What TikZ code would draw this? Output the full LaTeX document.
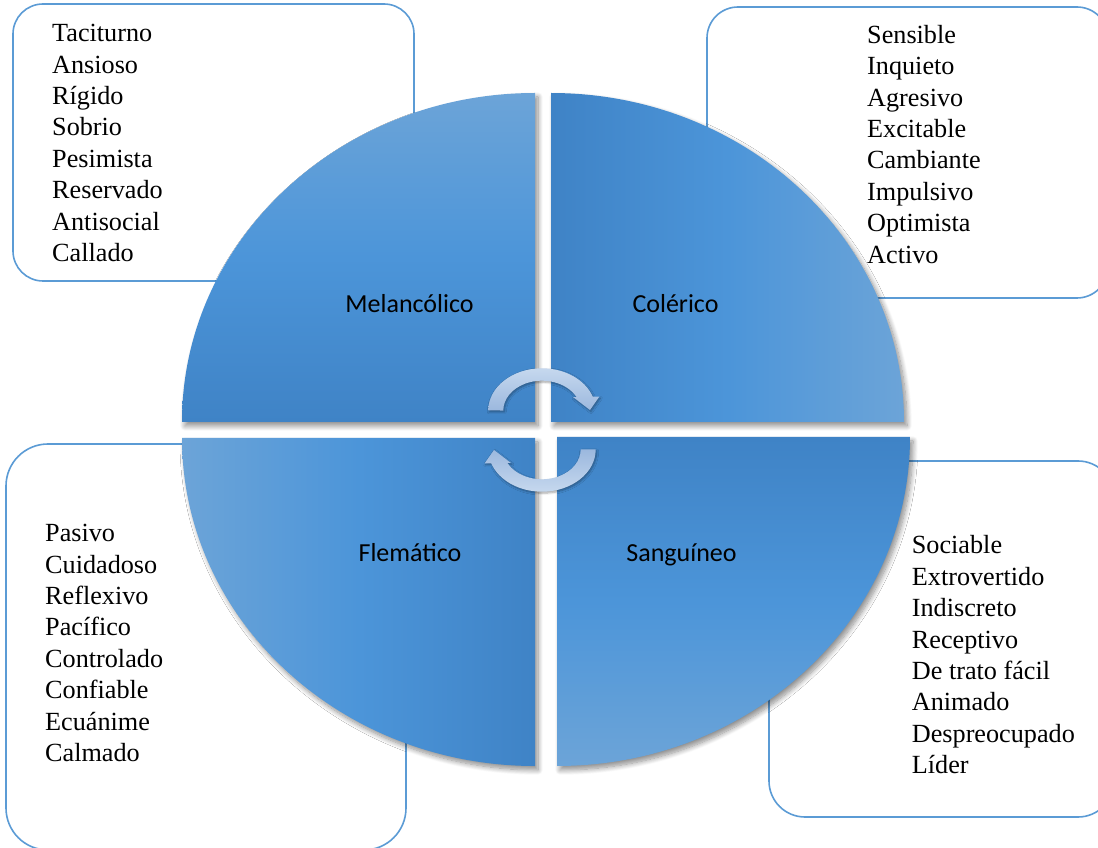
\documentclass[tikz,border=0pt]{standalone}
\usepackage{fontspec}
\setmainfont{Liberation Serif}
\newfontfamily\quadfont{Carlito}
\usetikzlibrary{shadows.blur}

\definecolor{qdark}{HTML}{3F83C6}
\definecolor{qmid}{HTML}{4C95D9}
\definecolor{qlight}{HTML}{6CA4D8}
\definecolor{frameblue}{HTML}{5B9BD5}
\definecolor{arrowlight}{HTML}{C6D8EE}
\definecolor{arrowdark}{HTML}{9BB8DE}

\tikzset{
  traitbox/.style={draw=frameblue, line width=1.6pt, fill=white, inner sep=0pt},
  traitlist/.style={font=\fontsize{26.2}{31.4}\selectfont, inner sep=0pt, anchor=base west},
  quadlabel/.style={font=\quadfont\fontsize{26}{31}\selectfont, inner sep=0pt, anchor=base},
  quadshadow/.style={blur shadow={shadow xshift=3pt, shadow yshift=-4pt,
      shadow blur radius=5pt, shadow blur steps=10, shadow opacity=45}},
  arrowshadow/.style={blur shadow={shadow xshift=1pt, shadow yshift=-1.5pt,
      shadow blur radius=2pt, shadow blur steps=6, shadow opacity=35}},
}

\begin{document}
\begin{tikzpicture}[x=1pt, y=1pt]
  \useasboundingbox (0,0) rectangle (1098,847);
  \clip (0,0) rectangle (1098,847);

  % rounded frames holding the trait lists
  \node[traitbox, rounded corners=30pt, minimum width=401pt, minimum height=277pt]
    (melbox) at (213.5,704.5) {};
  \node[traitbox, rounded corners=31pt, minimum width=401pt, minimum height=291pt]
    (colbox) at (907.5,694.5) {};
  \node[traitbox, rounded corners=42pt, minimum width=400pt, minimum height=406pt]
    (flebox) at (206,200) {};
  \node[traitbox, rounded corners=36pt, minimum width=345pt, minimum height=356pt]
    (sanbox) at (941.5,208) {};

  % trait lists
  \node[traitlist] (mellist) at (52,805.3) {\vtop{%
    \hbox{Taciturno}\hbox{Ansioso}\hbox{Rígido}\hbox{Sobrio}%
    \hbox{Pesimista}\hbox{Reservado}\hbox{Antisocial}\hbox{Callado}}};
  \node[traitlist] (collist) at (867,803.7) {\vtop{%
    \hbox{Sensible}\hbox{Inquieto}\hbox{Agresivo}\hbox{Excitable}%
    \hbox{Cambiante}\hbox{Impulsivo}\hbox{Optimista}\hbox{Activo}}};
  \node[traitlist] (flelist) at (45,305.3) {\vtop{%
    \hbox{Pasivo}\hbox{Cuidadoso}\hbox{Reflexivo}\hbox{Pacífico}%
    \hbox{Controlado}\hbox{Confiable}\hbox{Ecuánime}\hbox{Calmado}}};
  \node[traitlist] (sanlist) at (911.7,293) {\vtop{%
    \hbox{Sociable}\hbox{Extrovertido}\hbox{Indiscreto}\hbox{Receptivo}%
    \hbox{De trato fácil}\hbox{Animado}\hbox{Despreocupado}\hbox{Líder}}};

  % four quarter-ellipse sectors
  \path[quadshadow, top color=qlight, bottom color=qdark, middle color=qmid]
    (535,425) -- (182,425) arc[start angle=180, end angle=90, x radius=353, y radius=329] -- cycle;
  \path[quadshadow, left color=qdark, right color=qlight, middle color=qmid]
    (551,425) -- (551,754) arc[start angle=90, end angle=0, x radius=353, y radius=329] -- cycle;
  \path[quadshadow, left color=qlight, right color=qdark, middle color=qmid]
    (535,409) -- (182,409) arc[start angle=180, end angle=270, x radius=353, y radius=328] -- cycle;
  \path[quadshadow, top color=qdark, bottom color=qlight, middle color=qmid]
    (557,410) -- (910,410) arc[start angle=0, end angle=-90, x radius=353, y radius=329] -- cycle;

  % sector labels
  \node[quadlabel] (mel) at (409.5,534) {Melancólico};
  \node[quadlabel] (col) at (675.5,534) {Colérico};
  \node[quadlabel] (fle) at (410,285) {Flemático};
  \node[quadlabel] (san) at (681.5,285) {Sanguíneo};

  % cycle arrows in the centre
  \path[arrowshadow, top color=arrowlight, bottom color=arrowdark]
    (488.3,436.5) arc[start angle=180, end angle=19.1, x radius=53.7, y radius=42.2]
    -- (599.3,450.3) -- (590,437) -- (573,450) -- (576.7,449.7)
    arc[start angle=26.3, end angle=180, x radius=38.7, y radius=29.8] -- cycle;
  \path[arrowshadow, top color=arrowdark, bottom color=arrowlight]
    (595.7,397.5) arc[start angle=360, end angle=199.1, x radius=53.7, y radius=42.2]
    -- (484.7,383.7) -- (494,397) -- (511,384) -- (507.3,384.3)
    arc[start angle=206.3, end angle=360, x radius=38.7, y radius=29.8] -- cycle;
\end{tikzpicture}
\end{document}
